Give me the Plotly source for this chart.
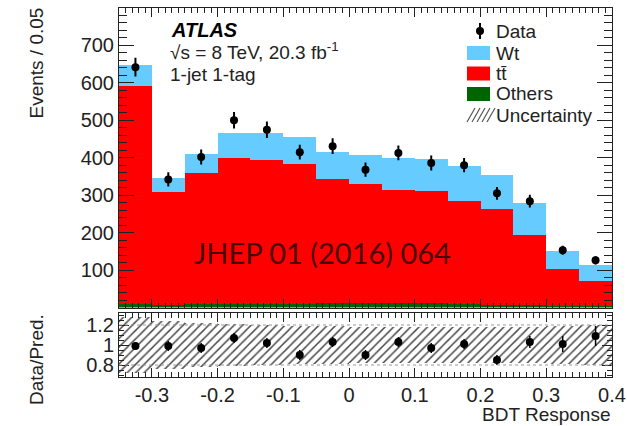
import plotly.graph_objects as go

# ---------------- data ----------------
bin_centers = [-0.325, -0.275, -0.225, -0.175, -0.125, -0.075, -0.025,
               0.025, 0.075, 0.125, 0.175, 0.225, 0.275, 0.325, 0.375]
others = [10, 8, 10, 10, 10, 10, 12, 12, 12, 12, 10, 8, 6, 5, 4]
ttbar = [581, 301, 350, 390, 385, 374, 330, 317, 303, 299, 274, 254, 189, 97, 67]
wt = [56, 36, 51, 66, 71, 71, 73, 78, 85, 86, 94, 93, 83, 49, 43]
data = [642, 342, 402, 500, 475, 415, 431, 368, 413, 386, 380, 305, 284, 153, 126]
data_err = [25, 19, 20, 22, 22, 20, 21, 19, 20, 20, 19, 17, 17, 12, 11]
ratio = [0.99, 0.99, 0.97, 1.07, 1.02, 0.90, 1.03, 0.90, 1.03, 0.97, 1.01, 0.85, 1.03, 1.01, 1.09]
ratio_err = [0.04, 0.05, 0.05, 0.05, 0.05, 0.05, 0.05, 0.05, 0.05, 0.05, 0.05, 0.05, 0.06, 0.08, 0.10]
unc_low = [0.72, 0.76, 0.78, 0.79, 0.80, 0.81, 0.81, 0.82, 0.82, 0.82, 0.82, 0.82, 0.82, 0.81, 0.80]
unc_size = [0.56, 0.48, 0.44, 0.42, 0.40, 0.38, 0.38, 0.36, 0.36, 0.36, 0.36, 0.36, 0.36, 0.38, 0.40]
bin_width = 0.05

x_tickvals = [-0.3, -0.2, -0.1, 0.0, 0.1, 0.2, 0.3, 0.4]
x_ticktext = ["-0.3", "-0.2", "-0.1", "0", "0.1", "0.2", "0.3", "0.4"]
y_tickvals = [100, 200, 300, 400, 500, 600, 700]
y_ticktext = ["100", "200", "300", "400", "500", "600", "700"]
r_tickvals = [0.8, 1.0, 1.2]
r_ticktext = ["0.8", "1", "1.2"]

# ---------------- styling ----------------
W, H = 627, 426
FONT = "Liberation Sans, Arial, Helvetica, sans-serif"
C_WT = "#66CCFF"
C_TT = "#FF0000"
C_OT = "#006400"
AX = "#222222"


def px(x):
    return x / W


def py(y):
    return 1 - y / H


fig = go.Figure()

# stacked histogram
fig.add_trace(go.Bar(x=bin_centers, y=others, width=bin_width, name="Others",
                     marker=dict(color=C_OT, line=dict(width=0)),
                     xaxis="x", yaxis="y", showlegend=False))
fig.add_trace(go.Bar(x=bin_centers, y=ttbar, width=bin_width, name="tt̄",
                     marker=dict(color=C_TT, line=dict(width=0)),
                     xaxis="x", yaxis="y", showlegend=False))
fig.add_trace(go.Bar(x=bin_centers, y=wt, width=bin_width, name="Wt",
                     marker=dict(color=C_WT, line=dict(width=0)),
                     xaxis="x", yaxis="y", showlegend=False))
fig.add_trace(go.Scatter(x=bin_centers, y=data, mode="markers", name="Data",
                         marker=dict(color="black", size=8),
                         error_y=dict(type="data", array=data_err, color="black",
                                      thickness=2, width=0),
                         xaxis="x", yaxis="y", showlegend=False))

# ratio panel: uncertainty band + data/pred
fig.add_trace(go.Bar(x=bin_centers, y=unc_size, base=unc_low, width=bin_width,
                     name="Uncertainty",
                     marker=dict(color="white", line=dict(width=0),
                                 pattern=dict(shape="/", fgcolor="#484848",
                                              fgopacity=1, size=6,
                                              solidity=0.25, fillmode="replace")),
                     xaxis="x2", yaxis="y2", showlegend=False))
fig.add_trace(go.Scatter(x=bin_centers, y=ratio, mode="markers", name="Data/Pred.",
                         marker=dict(color="black", size=8),
                         error_y=dict(type="data", array=ratio_err, color="black",
                                      thickness=1.5, width=0),
                         xaxis="x2", yaxis="y2", showlegend=False))

x_dom = [px(119), px(612)]
common_x = dict(range=[-0.35, 0.4], tickmode="array", tickvals=x_tickvals,
                ticktext=x_ticktext, ticks="inside", automargin=False,
                ticklen=9, tickwidth=1, tickcolor=AX, showline=True,
                linecolor=AX, linewidth=1, mirror="allticks", showgrid=False,
                zeroline=False,
                minor=dict(tickmode="linear", tick0=0, dtick=0.01, ticks="inside",
                           ticklen=5, tickcolor=AX, showgrid=False),
                tickfont=dict(family=FONT, size=20, color="#222"))

fig.update_layout(
    width=W, height=H,
    margin=dict(l=0, r=0, t=0, b=0, autoexpand=False),
    paper_bgcolor="white", plot_bgcolor="white",
    barmode="stack", bargap=0,
    showlegend=False,
    font=dict(family=FONT, size=19, color="#222"),
    xaxis=dict(domain=x_dom, anchor="y", showticklabels=False, **common_x),
    xaxis2=dict(domain=x_dom, anchor="y2", showticklabels=True, **common_x),
    yaxis=dict(domain=[py(307.5), py(8)], anchor="x", range=[0, 800],
               tickmode="array", tickvals=y_tickvals, ticktext=y_ticktext,
               automargin=False,
               ticks="inside", ticklen=15, tickcolor=AX, showline=True,
               linecolor=AX, linewidth=1, mirror="allticks", showgrid=False,
               zeroline=False,
               minor=dict(tickmode="linear", tick0=0, dtick=20, ticks="inside",
                          ticklen=8, tickcolor=AX, showgrid=False),
               tickfont=dict(family=FONT, size=20, color="#222")),
    yaxis2=dict(domain=[py(377), py(313)], anchor="x2", range=[0.68, 1.32],
                tickmode="array", tickvals=r_tickvals, ticktext=r_ticktext,
                automargin=False,
                ticks="inside", ticklen=10, tickcolor=AX, showline=True,
                linecolor=AX, linewidth=1, mirror="allticks", showgrid=False,
                zeroline=False,
                minor=dict(tickmode="linear", tick0=0, dtick=0.05, ticks="inside",
                           ticklen=5, tickcolor=AX, showgrid=False),
                tickfont=dict(family=FONT, size=20, color="#222")),
)

# dotted reference lines in ratio panel
for lv in [0.8, 1.2]:
    fig.add_shape(type="line", xref="x2", yref="y2", x0=-0.35, x1=0.4, y0=lv, y1=lv,
                  line=dict(color="#999999", width=1, dash="dot"))

shapes = []
# manual legend
# Data
shapes.append(dict(type="line", xref="paper", yref="paper", x0=px(480), x1=px(480),
                   y0=py(23), y1=py(39), line=dict(color="black", width=2)))
shapes.append(dict(type="circle", xref="paper", yref="paper", x0=px(476), x1=px(484),
                   y0=py(35), y1=py(27), fillcolor="black", line=dict(color="black", width=0)))
# Wt, tt, Others boxes
for (col, yc) in [(C_WT, 53), (C_TT, 73.5), (C_OT, 94)]:
    shapes.append(dict(type="rect", xref="paper", yref="paper", x0=px(467), x1=px(490),
                       y0=py(yc + 7), y1=py(yc - 7), fillcolor=col, line=dict(width=0)))
# Uncertainty hatch symbol
for k in range(5):
    xs = 467 + k * 5
    shapes.append(dict(type="line", xref="paper", yref="paper", x0=px(xs), x1=px(xs + 8),
                       y0=py(122), y1=py(108), line=dict(color="#555", width=1.2)))
for s in shapes:
    fig.add_shape(**s)

ann = []
leg_items = [("Data", 31), ("Wt", 53), ("tt̄", 73.5), ("Others", 94), ("Uncertainty", 115)]
for txt, yc in leg_items:
    ann.append(dict(text=txt, x=px(494), y=py(yc), xanchor="left", yanchor="middle"))
ann.append(dict(text="<b><i>ATLAS</i></b>", x=px(169), y=py(30), xanchor="left",
                yanchor="middle", font=dict(size=20, color="black", family=FONT)))
ann.append(dict(text="√s = 8 TeV, 20.3 fb<sup>-1</sup>", x=px(168), y=py(51),
                xanchor="left", yanchor="middle"))
ann.append(dict(text="1-jet 1-tag", x=px(168), y=py(74), xanchor="left", yanchor="middle"))
ann.append(dict(text="JHEP 01 (2016) 064", x=px(322), y=py(252), xanchor="center",
                yanchor="middle", font=dict(family="Lato, Open Sans, sans-serif", size=29,
                                            color="rgba(40,0,0,0.85)")))
ann.append(dict(text="Events / 0.05", textangle=-90, x=px(36), y=py(6), xanchor="center",
                yanchor="top"))
ann.append(dict(text="Data/Pred.", textangle=-90, x=px(36), y=py(360), xanchor="center",
                yanchor="middle"))
ann.append(dict(text="BDT Response", x=px(613), y=py(414), xanchor="right", yanchor="middle"))

for a in ann:
    base = dict(xref="paper", yref="paper", showarrow=False,
                font=dict(family=FONT, size=19, color="#222"))
    base.update(a)
    fig.add_annotation(**base)

fig.write_html("out.html")
